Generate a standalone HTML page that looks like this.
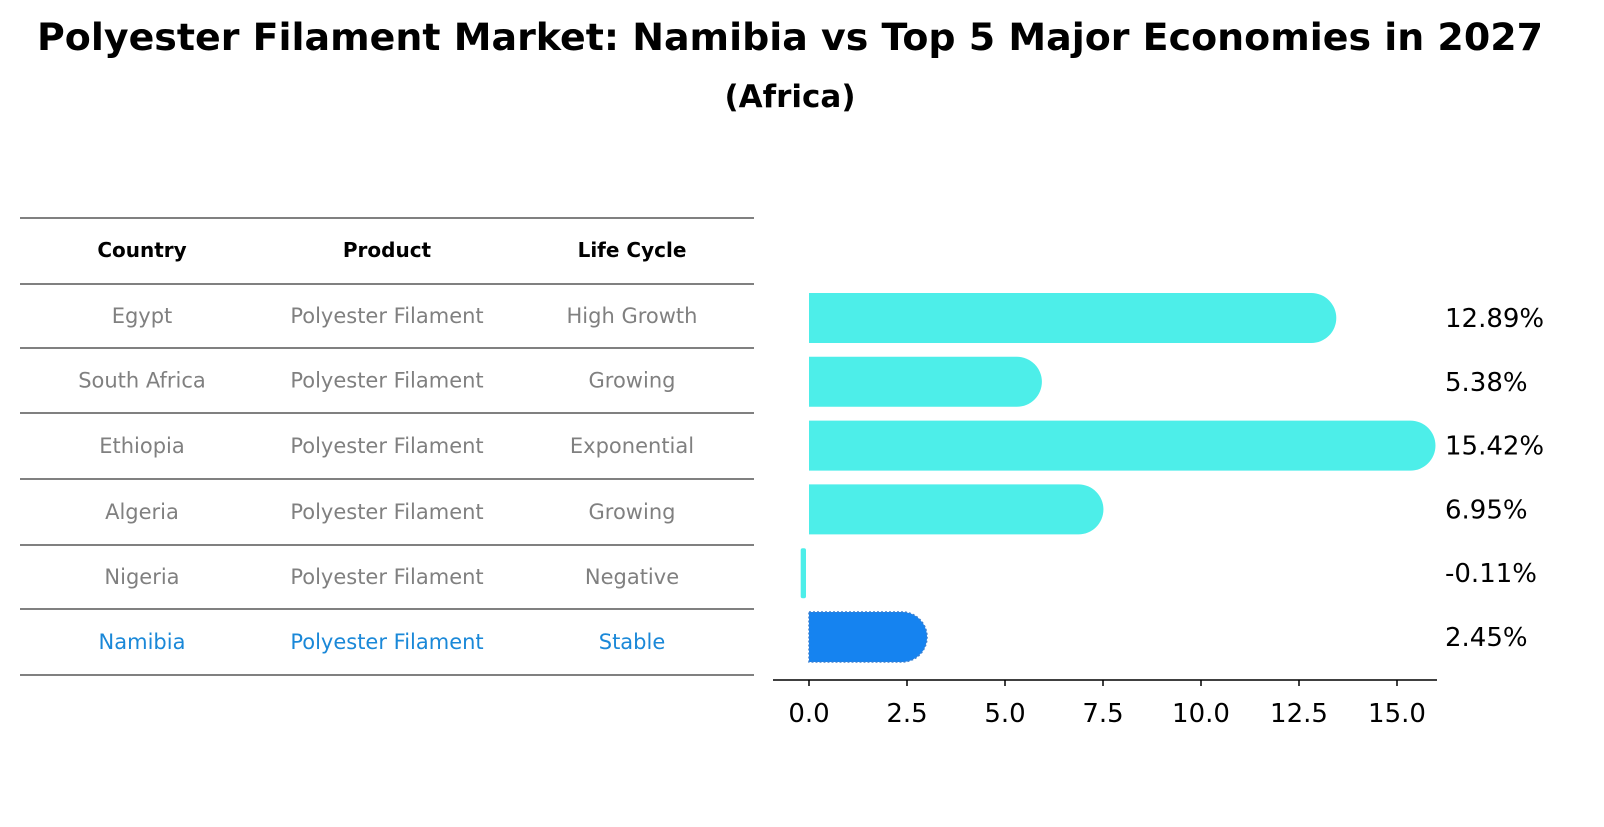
<!DOCTYPE html>
<html><head><meta charset="utf-8"><style>
body{margin:0;background:#fff;width:1604px;height:823px;overflow:hidden;font-family:"DejaVu Sans","Liberation Sans",sans-serif}
</style></head><body>
<svg width="1604" height="823" xmlns="http://www.w3.org/2000/svg" font-family="DejaVu Sans, Liberation Sans, sans-serif">
<text x="790" y="50" text-anchor="middle" font-size="37" font-weight="bold" textLength="1506" lengthAdjust="spacingAndGlyphs">Polyester Filament Market: Namibia vs Top 5 Major Economies in 2027</text>
<text x="790" y="107" text-anchor="middle" font-size="31" font-weight="bold">(Africa)</text>
<g id="table"></g>
<g id="bars"></g>
</svg>
<script>
const countries=["Egypt","South Africa","Ethiopia","Algeria","Nigeria","Namibia"];
const products=["Polyester Filament","Polyester Filament","Polyester Filament","Polyester Filament","Polyester Filament","Polyester Filament"];
const lifeCycles=["High Growth","Growing","Exponential","Growing","Negative","Stable"];
const values=[12.89,5.38,15.42,6.95,-0.11,2.45];
const valueLabels=["12.89%","5.38%","15.42%","6.95%","-0.11%","2.45%"];
const ticks=[0,2.5,5,7.5,10,12.5,15];
const tickLabels=["0.0","2.5","5.0","7.5","10.0","12.5","15.0"];
const NS="http://www.w3.org/2000/svg";
function mk(tag,attrs,parent){const e=document.createElementNS(NS,tag);for(const k in attrs)e.setAttribute(k,attrs[k]);parent.appendChild(e);return e;}
const tbl=document.getElementById('table');
const lineYs=[218,284,348,413,479,545,609,675];
lineYs.forEach((y,i)=>{const l=mk('line',{x1:20,x2:754,y1:y,y2:y,stroke:'#000','stroke-width':1},tbl);

});
const colX=[142,387,632];
["Country","Product","Life Cycle"].forEach((h,i)=>{const t=mk('text',{x:colX[i],y:257,'text-anchor':'middle','font-size':20,'font-weight':'bold'},tbl);t.textContent=h;

});
countries.forEach((c,r)=>{const y=(lineYs[r+1]+lineYs[r+2])/2+7;const col=r===countries.length-1?'#1a88d8':'#808080';
[c,products[r],lifeCycles[r]].forEach((v,i)=>{const t=mk('text',{x:colX[i],y:y,'text-anchor':'middle','font-size':21,fill:col},tbl);t.textContent=v;

});});
const g=document.getElementById('bars');
const x0=809,ppu=39.2;const xs=v=>x0+v*ppu;
const rowY=r=>318+r*63.8;const bh=50,cap=22;
values.forEach((v,r)=>{const yc=rowY(r),yt=yc-bh/2;const isN=r===values.length-1;const fill=isN?'#1583f0':'#4deee9';
let el;
if(v<=0){el=mk('rect',{x:xs(v)-4,y:yt,width:Math.max(4,x0-xs(v)+1),height:bh,rx:2,fill:fill},g);}
else{const xe=xs(v)+cap,r2=bh/2;
el=mk('path',{d:`M${x0},${yt} L${xe-r2},${yt} A${r2},${r2} 0 0 1 ${xe-r2},${yt+bh} L${x0},${yt+bh} Z`,fill:fill},g);
if(isN){el.setAttribute('stroke','#3a7fd0');el.setAttribute('stroke-dasharray','2,2');el.setAttribute('stroke-width','1.5');}}


const t=mk('text',{x:1445,y:yc+9,'font-size':26},g);t.textContent=valueLabels[r];

});
const ax=mk('line',{x1:773,x2:1437,y1:680,y2:680,stroke:'#000','stroke-width':1.5},g);


ticks.forEach((v,i)=>{const tk=mk('line',{x1:xs(v),x2:xs(v),y1:680,y2:686,stroke:'#000','stroke-width':1.5},g);


const t=mk('text',{x:xs(v),y:722,'text-anchor':'middle','font-size':26},g);t.textContent=tickLabels[i];

});
</script>
</body></html>
